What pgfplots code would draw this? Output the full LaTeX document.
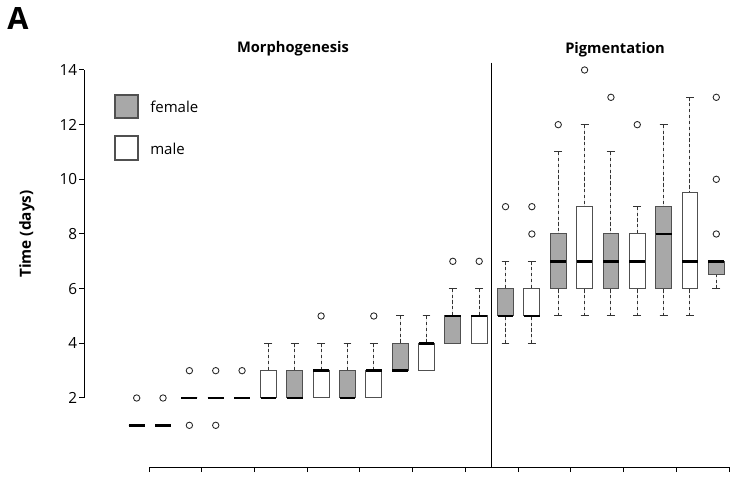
\documentclass[border=0pt]{standalone}
\usepackage{fontspec}
\setmainfont{Open Sans}
\usepackage{pgfplots}
\pgfplotsset{compat=1.18}
\usepgfplotslibrary{statistics}

\definecolor{boxgray}{HTML}{A8A8A8}
\definecolor{boxedge}{HTML}{505050}

\pgfplotsset{
  boxplot/draw direction=y,
  boxplot/box extend=0.6,
  boxplot/every median/.style={black, line width=2.2pt},
  boxplot/draw/whisker/.code 2 args={%
    \draw[black!80, line width=0.7pt, dash pattern=on 2.4pt off 2pt]
      (boxplot cs:#2) -- (boxplot cs:#1);
    \draw[black!80, line width=0.75pt]
      (boxplot box cs:#1,0.25) -- (boxplot box cs:#1,0.75)
      (boxplot box cs:#2,0.25) -- (boxplot box cs:#2,0.75);
  },
  gb/.style={draw=boxedge, line width=0.75pt, fill=boxgray, mark=o, mark size=2.4pt,
    mark options={solid, black!85, fill=none, line width=0.65pt}},
  wb/.style={gb, fill=white},
}

\begin{document}
\begin{tikzpicture}[x=0.75pt, y=0.75pt]
\path[use as bounding box] (0,0) rectangle (734,481);

% main axis: y axis and boxes
\begin{axis}[
  at={(63pt,62.25pt)}, anchor=south west,
  scale only axis, width=484.5pt, height=246pt,
  xmin=-2, xmax=22.52, ymin=2, ymax=14,
  axis y line*=left, axis x line=none,
  ytick={2,4,...,14},
  tick align=outside, major tick length=3.5pt,
  y axis line style={line width=0.75pt},
  ytick style={line width=0.75pt, black},
  yticklabel style={font=\fontsize{11.5}{13}\selectfont, inner sep=1.5pt, text=black},
  /pgf/number format/assume math mode=true,
  clip=false,
]
% Morphogenesis
\addplot[wb, boxplot prepared={draw position=0, lower whisker=1, lower quartile=1, median=1, upper quartile=1, upper whisker=1}] coordinates {(0,2)};
\addplot[wb, boxplot prepared={draw position=1, lower whisker=1, lower quartile=1, median=1, upper quartile=1, upper whisker=1}] coordinates {(0,2)};
\addplot[wb, boxplot prepared={draw position=2, lower whisker=2, lower quartile=2, median=2, upper quartile=2, upper whisker=2}] coordinates {(0,3) (0,1)};
\addplot[wb, boxplot prepared={draw position=3, lower whisker=2, lower quartile=2, median=2, upper quartile=2, upper whisker=2}] coordinates {(0,3) (0,1)};
\addplot[wb, boxplot prepared={draw position=4, lower whisker=2, lower quartile=2, median=2, upper quartile=2, upper whisker=2}] coordinates {(0,3)};
\addplot[wb, boxplot prepared={draw position=5, lower whisker=2, lower quartile=2, median=2, upper quartile=3, upper whisker=4}] coordinates {};
\addplot[gb, boxplot prepared={draw position=6, lower whisker=2, lower quartile=2, median=2, upper quartile=3, upper whisker=4}] coordinates {};
\addplot[wb, boxplot prepared={draw position=7, lower whisker=2, lower quartile=2, median=3, upper quartile=3, upper whisker=4}] coordinates {(0,5)};
\addplot[gb, boxplot prepared={draw position=8, lower whisker=2, lower quartile=2, median=2, upper quartile=3, upper whisker=4}] coordinates {};
\addplot[wb, boxplot prepared={draw position=9, lower whisker=2, lower quartile=2, median=3, upper quartile=3, upper whisker=4}] coordinates {(0,5)};
\addplot[gb, boxplot prepared={draw position=10, lower whisker=3, lower quartile=3, median=3, upper quartile=4, upper whisker=5}] coordinates {};
\addplot[wb, boxplot prepared={draw position=11, lower whisker=3, lower quartile=3, median=4, upper quartile=4, upper whisker=5}] coordinates {};
\addplot[gb, boxplot prepared={draw position=12, lower whisker=4, lower quartile=4, median=5, upper quartile=5, upper whisker=6}] coordinates {(0,7)};
\addplot[wb, boxplot prepared={draw position=13, lower whisker=4, lower quartile=4, median=5, upper quartile=5, upper whisker=6}] coordinates {(0,7)};
% Pigmentation
\addplot[gb, boxplot prepared={draw position=14, lower whisker=4, lower quartile=5, median=5, upper quartile=6, upper whisker=7}] coordinates {(0,9)};
\addplot[wb, boxplot prepared={draw position=15, lower whisker=4, lower quartile=5, median=5, upper quartile=6, upper whisker=7}] coordinates {(0,9) (0,8)};
\addplot[gb, boxplot prepared={draw position=16, lower whisker=5, lower quartile=6, median=7, upper quartile=8, upper whisker=11}] coordinates {(0,12)};
\addplot[wb, boxplot prepared={draw position=17, lower whisker=5, lower quartile=6, median=7, upper quartile=9, upper whisker=12}] coordinates {(0,14)};
\addplot[gb, boxplot prepared={draw position=18, lower whisker=5, lower quartile=6, median=7, upper quartile=8, upper whisker=11}] coordinates {(0,13)};
\addplot[wb, boxplot prepared={draw position=19, lower whisker=5, lower quartile=6, median=7, upper quartile=8, upper whisker=9}] coordinates {(0,12)};
\addplot[gb, boxplot prepared={draw position=20, lower whisker=5, lower quartile=6, median=8, upper quartile=9, upper whisker=12}] coordinates {};
\addplot[wb, boxplot prepared={draw position=21, lower whisker=5, lower quartile=6, median=7, upper quartile=9.5, upper whisker=13}] coordinates {};
\addplot[gb, boxplot prepared={draw position=22, lower whisker=6, lower quartile=6.5, median=7, upper quartile=7, upper whisker=7}] coordinates {(0,13) (0,10) (0,8)};
\end{axis}

% bottom axis line with ticks
\begin{axis}[
  at={(111.75pt,10.5pt)}, anchor=south west,
  scale only axis, width=435.5pt, height=10pt,
  xmin=0.5, xmax=22.52, ymin=0, ymax=1,
  axis x line*=bottom, axis y line=none,
  xtick={0.5,2.5,...,22.5}, xticklabel=\empty,
  tick align=outside, major tick length=3.75pt,
  x axis line style={line width=0.75pt},
  xtick style={line width=0.75pt, black},
]
\addplot[draw=none] coordinates {(0.5,0) (22.5,1)};
\end{axis}

% separator
\draw[line width=1pt] (491.3,418.3) -- (491.3,13.5);

% legend
\draw[boxedge, line width=0.9pt, fill=boxgray] (115,363) rectangle (138,386);
\draw[boxedge, line width=0.9pt, fill=white] (115,321) rectangle (138,345);
\node[anchor=base west, inner sep=0, font=\fontsize{11.25}{13}\selectfont] at (150,368) {female};
\node[anchor=base west, inner sep=0, font=\fontsize{11.25}{13}\selectfont] at (150,326) {male};

% titles
\node[anchor=base, inner sep=0, font=\bfseries\fontsize{11}{13}\selectfont] at (293,428) {Morphogenesis};
\node[anchor=base, inner sep=0, font=\bfseries\fontsize{11}{13}\selectfont] at (615,427) {Pigmentation};
\node[anchor=base west, inner sep=0, font=\bfseries\fontsize{23}{26}\selectfont] at (7,451) {A};
\node[rotate=90, inner sep=0, font=\bfseries\fontsize{11.5}{13}\selectfont] at (27,247) {Time (days)};
\end{tikzpicture}
\end{document}
